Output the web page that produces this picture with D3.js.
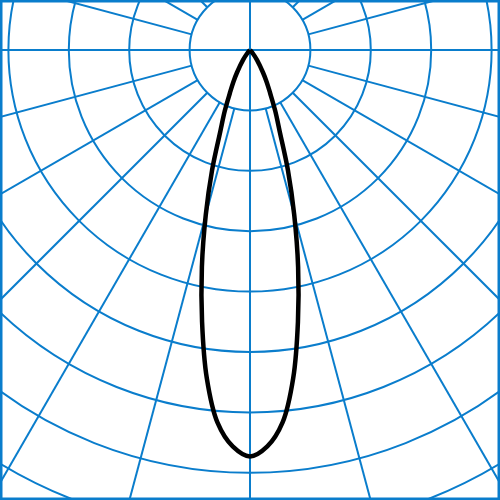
<!DOCTYPE html>
<html><head><meta charset="utf-8">
<script src="https://cdn.jsdelivr.net/npm/d3@7"></script>
<style>html,body{margin:0;padding:0;background:#fff}svg{display:block}</style>
</head><body>
<svg id="c" width="500" height="500"></svg>
<script>
// Luminous intensity (cd/klm) by angle from nadir (degrees), symmetric
const angles = [0, 2.5, 5, 7.5, 10, 12.5, 15, 17.5, 20, 22.5, 25, 27.5, 30, 35, 40, 45];
const intensity = [673, 657, 619, 548, 457, 368, 283, 209, 144, 109, 79, 60, 43, 20, 7, 0];
const ringValues = [100, 200, 300, 400, 500, 600, 700, 800, 900];
const spokeAngles = d3.range(0, 360, 15);

const svg = d3.select("#c");
const cx = 250, cy = 50;
const r = d3.scaleLinear().domain([0, 100]).range([0, 60.4]);
const blue = "#0a7dcc";
const g = svg.append("g").attr("transform", `translate(${cx},${cy})`);

// rings
g.selectAll("circle.ring").data(ringValues).join("circle")
  .attr("class", "ring").attr("r", d => r(d))
  .attr("fill", "none").attr("stroke", blue).attr("stroke-width", 2);

// spokes
const rMin = r(ringValues[0]), rMax = 800;
g.selectAll("line.spoke").data(spokeAngles).join("line")
  .attr("class", "spoke")
  .attr("x1", d => (d % 90 === 0 ? 0 : rMin) * Math.sin(d * Math.PI / 180))
  .attr("y1", d => (d % 90 === 0 ? 0 : rMin) * Math.cos(d * Math.PI / 180))
  .attr("x2", d => rMax * Math.sin(d * Math.PI / 180))
  .attr("y2", d => rMax * Math.cos(d * Math.PI / 180))
  .attr("stroke", blue).attr("stroke-width", 2);

// frame
svg.append("rect").attr("x", 1).attr("y", 1).attr("width", 498).attr("height", 498)
  .attr("fill", "none").attr("stroke", blue).attr("stroke-width", 3);

// curve
const pts = [];
for (let i = angles.length - 1; i >= 1; i--) pts.push([-angles[i], intensity[i]]);
for (let i = 0; i < angles.length; i++) pts.push([angles[i], intensity[i]]);
const line = d3.lineRadial()
  .angle(d => Math.PI - d[0] * Math.PI / 180)
  .radius(d => r(d[1]))
  .curve(d3.curveCatmullRom.alpha(0.5));
g.append("path").datum(pts).attr("d", line)
  .attr("fill", "none").attr("stroke", "#000").attr("stroke-width", 4.5)
  .attr("stroke-linejoin", "round");
</script>
</body></html>
